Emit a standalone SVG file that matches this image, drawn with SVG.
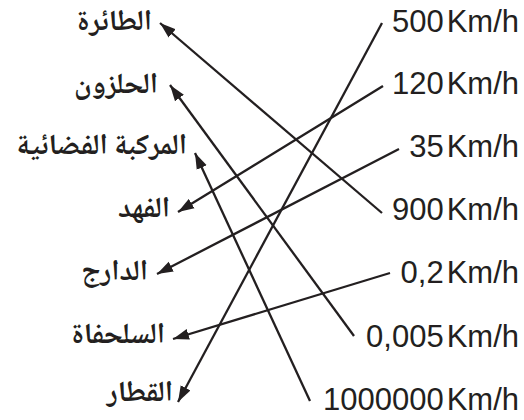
<svg xmlns="http://www.w3.org/2000/svg" width="524" height="420" viewBox="0 0 524 420">
<style>
.ar{font-family:"Noto Naskh Arabic","DejaVu Sans",sans-serif;font-size:29px;font-weight:bold;fill:#231f20;text-anchor:end}
.sp{font-family:"Liberation Sans",Arial,sans-serif;font-size:31px;fill:#231f20;text-anchor:end}
.c line{stroke:#231f20;stroke-width:2.3;fill:none;marker-end:url(#ah)}
</style>
<defs>
<marker id="ah" markerUnits="userSpaceOnUse" markerWidth="17" markerHeight="13" refX="16" refY="5.5" orient="auto" viewBox="0 0 17 11">
<path d="M0,0 L16,5.5 L0,11 Z" fill="#231f20"/>
</marker>
</defs>
<rect width="524" height="420" fill="#fff"/>
<g id="l1"><text class="ar" x="152" y="30">الطائرة</text></g>
<g id="l2"><text class="ar" x="158" y="93">الحلزون</text></g>
<g id="l3"><text class="ar" x="187" y="154">المركبة الفضائية</text></g>
<g id="l4"><text class="ar" x="170" y="217">الفهد</text></g>
<g id="l5"><text class="ar" x="148" y="280">الدارج</text></g>
<g id="l6"><text class="ar" x="165" y="343">السلحفاة</text></g>
<g id="l7"><text class="ar" x="173" y="401">القطار</text></g>
<g id="r1"><text class="sp" x="519" y="32">500<tspan dx="3">Km/h</tspan></text></g>
<g id="r2"><text class="sp" x="519" y="94">120<tspan dx="3">Km/h</tspan></text></g>
<g id="r3"><text class="sp" x="519" y="157">35<tspan dx="3">Km/h</tspan></text></g>
<g id="r4"><text class="sp" x="519" y="220">900<tspan dx="3">Km/h</tspan></text></g>
<g id="r5"><text class="sp" x="519" y="283">0,2<tspan dx="3">Km/h</tspan></text></g>
<g id="r6"><text class="sp" x="519" y="347">0,005<tspan dx="3">Km/h</tspan></text></g>
<g id="r7"><text class="sp" x="519" y="410">1000000<tspan dx="3">Km/h</tspan></text></g>
<g id="connectors" class="c">
<line x1="382" y1="213" x2="160" y2="23"/>
<line x1="354" y1="336" x2="170" y2="85"/>
<line x1="310" y1="401" x2="195" y2="153"/>
<line x1="383" y1="86" x2="178" y2="212"/>
<line x1="399" y1="149" x2="157" y2="274"/>
<line x1="390" y1="273" x2="173" y2="339"/>
<line x1="382" y1="23" x2="178" y2="402"/>
</g>
</svg>
